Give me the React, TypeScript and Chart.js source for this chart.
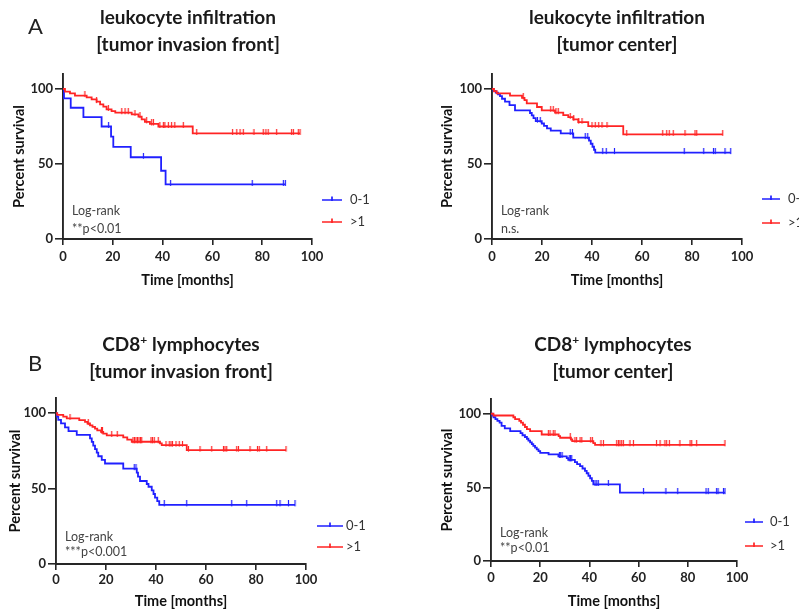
import React, { useEffect, useRef } from "react";
import { Chart, registerables } from "chart.js";
Chart.register(...registerables);

const FONT = "Lato, 'Open Sans', sans-serif";
const BLUE = "#2020ff";
const RED = "#ff2424";
const AXIS = "#262626";

// ---------- A: leukocyte infiltration, tumor invasion front ----------
const aFrontLowT = [0, 0.4, 3.1, 8.2, 15.5, 19.3, 20.2, 27.2, 39.4, 41.2, 89.3];
const aFrontLowS = [100, 93.8, 87.5, 81.3, 75, 68.2, 61.4, 54.5, 45.5, 36.4, 36.4];
const aFrontLowC = [18.3, 32.3, 43.2, 76, 88.5, 89.3];
const aFrontHighT = [0, 0.8, 2.8, 4.8, 9.5, 11.5, 13.5, 14.9, 16.2, 17.5, 19.5, 21.0, 27.6, 30.3, 31.6, 32.9, 34.9, 38.3, 52.1, 95.2];
const aFrontHighS = [100, 98.2, 97.1, 95.6, 94.4, 93.1, 91.6, 89.8, 88.2, 86.4, 85.3, 84.2, 83.1, 81.6, 79.8, 78.1, 76.7, 75.0, 70.4, 70.4];
const aFrontHighC = [8.8, 13.5, 18.2, 23.6, 24.9, 26.2, 28.9, 30.9, 33.6, 35.6, 36.3, 38.9, 40.3, 40.9, 42.3, 43.6, 44.9, 48.3, 53.7, 68.1, 69.8, 71.1, 72.4, 76.7, 80.4, 81.5, 82.4, 85.8, 91.8, 92.5, 94.5, 95.2];

// ---------- A: leukocyte infiltration, tumor center ----------
const aCenterLowT = [0, 0.6, 1.5, 2.4, 3.2, 4.0, 5.2, 7.0, 9.2, 15.2, 15.9, 16.6, 17.5, 19.9, 20.8, 22.0, 23.5, 27.5, 32.5, 38.8, 39.5, 40.2, 40.8, 41.3, 95.5];
const aCenterLowS = [100, 98.8, 97.6, 96.4, 95.2, 93.5, 91.6, 89.3, 85.8, 84.0, 82.4, 80.6, 78.6, 77.0, 75.4, 73.8, 72.2, 70.4, 67.6, 65.6, 63.5, 61.5, 59.5, 57.6, 57.6];
const aCenterLowC = [18.2, 19.3, 31.3, 32.2, 37.3, 38.3, 44.3, 45.7, 49, 76.9, 84.7, 88.6, 89.3, 93.2, 95.5];
const aCenterHighT = [0, 0.8, 1.9, 7.2, 12.0, 13.0, 13.9, 18.0, 19.9, 25.2, 28.5, 30.5, 32.5, 34.5, 38.5, 52.5, 92.3];
const aCenterHighS = [100, 98.5, 97.1, 95.6, 94.1, 92.6, 90.4, 88.0, 85.8, 84.2, 82.6, 81.2, 79.8, 77.9, 75.2, 69.8, 69.8];
const aCenterHighC = [12.5, 23.5, 24.5, 25.6, 26.5, 31.3, 32.7, 34.7, 36, 40, 41.3, 42.7, 44, 46, 53.9, 68.3, 69.9, 70.9, 72.5, 77.2, 81.2, 81.9, 92.3];

// ---------- B: CD8+ lymphocytes, tumor invasion front ----------
const bFrontLowT = [0, 0.3, 0.9, 2.0, 3.6, 5.0, 8.3, 13.6, 14.3, 14.9, 15.6, 16.3, 16.9, 18.3, 19.6, 26.9, 32.3, 32.8, 33.6, 36.3, 37.0, 38.3, 39.0, 39.6, 40.5, 41.3, 95.6];
const bFrontLowS = [100, 97.7, 95.5, 93.2, 90.5, 88.0, 85.6, 83.3, 80.9, 78.5, 76.1, 73.8, 71.4, 69.0, 66.6, 63.2, 60.5, 57.9, 55.0, 53.0, 51.2, 48.8, 46.4, 44.0, 41.6, 39.2, 39.2];
const bFrontLowC = [31.3, 32.0, 43.3, 52.3, 70.3, 76.3, 88.3, 89.6, 93, 95.6];
const bFrontHighT = [0, 0.5, 2.9, 4.3, 9.3, 11.6, 12.6, 13.6, 14.6, 15.6, 16.5, 18.0, 18.9, 20.3, 26.9, 28.5, 30.3, 41.6, 42.3, 52.3, 92.0];
const bFrontHighS = [100, 98.8, 97.7, 96.5, 95.3, 94.2, 93.1, 91.9, 90.8, 89.7, 88.6, 87.5, 86.4, 85.2, 83.9, 82.4, 81.0, 79.9, 78.8, 75.5, 75.5];
const bFrontHighC = [5.6, 12.9, 18.2, 18.6, 22.3, 24.5, 30.8, 31.4, 32, 32.6, 33.2, 33.8, 34.3, 38, 38.6, 39.3, 40.9, 44, 45.3, 46, 46.6, 48, 49.3, 50.6, 53, 57.6, 62.3, 67, 67.6, 68.3, 72.3, 73, 77.6, 80.6, 81.3, 84.3, 92];

// ---------- B: CD8+ lymphocytes, tumor center ----------
const bCenterLowT = [0, 0.5, 1.0, 1.8, 2.6, 3.5, 4.3, 5.6, 7.8, 12.0, 12.8, 13.8, 14.6, 15.2, 15.9, 16.6, 17.2, 17.9, 18.6, 19.3, 20.0, 23.4, 27.4, 30.8, 31.4, 34.1, 35.0, 36.2, 37.2, 38.2, 38.9, 39.6, 40.3, 41.0, 41.6, 52.4, 95.1];
const bCenterLowS = [100, 98.8, 97.6, 96.4, 95.2, 94.0, 91.8, 90.0, 88.2, 86.8, 85.4, 84.2, 83.0, 81.8, 80.6, 79.4, 78.2, 77.0, 75.8, 74.6, 73.4, 72.4, 71.0, 69.8, 68.7, 67.2, 65.8, 64.4, 62.8, 61.2, 59.6, 57.9, 56.2, 54.4, 52.0, 46.4, 46.4];
const bCenterLowC = [27.8, 28.3, 28.9, 31.8, 32.3, 32.8, 42.3, 43.0, 43.6, 47.7, 62, 71.1, 75.9, 87.4, 88.3, 91.7, 92.3, 94.5, 95.1];
const bCenterHighT = [0, 1.0, 9.1, 9.8, 11.5, 12.2, 13.0, 13.8, 14.6, 15.9, 20.6, 27.5, 28.1, 32.5, 33.0, 41.6, 42.3, 95.1];
const bCenterHighS = [100, 98.8, 97.6, 96.4, 95.2, 94.0, 92.5, 91.0, 89.6, 88.2, 85.9, 84.8, 83.7, 82.5, 81.4, 80.1, 78.9, 78.9];
const bCenterHighC = [23.3, 24, 25.3, 26, 32.2, 34.1, 34.8, 36.2, 36.9, 40.5, 41.2, 44.7, 45.7, 51.1, 51.8, 52.4, 53.1, 53.8, 56.5, 57.9, 67.3, 68.7, 70.7, 71.4, 72.5, 76.8, 80.9, 81.6, 83.6, 95.1];

const groupLabels = ["0-1", ">1"];
const xTicks = [0, 20, 40, 60, 80, 100];
const yTicks = [0, 50, 100];

type Pt = { x: number; y: number };
function stepData(T: number[], S: number[]): Pt[] {
  return T.map((t, i) => ({ x: t, y: S[i] }));
}
function censorData(T: number[], S: number[], C: number[]): Pt[] {
  return C.map((c) => {
    let y = S[0];
    for (let i = 0; i < T.length; i++) if (T[i] <= c) y = S[i];
    return { x: c, y };
  });
}
function makeTick(color: string): HTMLCanvasElement {
  const c = document.createElement("canvas");
  c.width = 3;
  c.height = 9;
  const g = c.getContext("2d")!;
  g.strokeStyle = color;
  g.lineWidth = 1.2;
  g.beginPath();
  g.moveTo(1.5, 0);
  g.lineTo(1.5, 6);
  g.stroke();
  return c;
}

const kmPlugin = {
  id: "kmExtras",
  afterDraw(chart: any, _args: any, o: any) {
    const { ctx, chartArea: ca } = chart;
    ctx.save();
    const items = [
      { color: BLUE, text: groupLabels[0], y: ca.bottom + o.legY1 },
      { color: RED, text: groupLabels[1], y: ca.bottom + o.legY2 },
    ];
    for (const it of items) {
      ctx.strokeStyle = it.color;
      ctx.lineWidth = 1.7;
      ctx.beginPath();
      ctx.moveTo(ca.right + o.legX0, it.y);
      ctx.lineTo(ca.right + o.legX1, it.y);
      const mx = ca.right + (o.legX0 + o.legX1) / 2;
      ctx.moveTo(mx, it.y - 3.5);
      ctx.lineTo(mx, it.y + 1);
      ctx.stroke();
      ctx.fillStyle = "#333";
      ctx.font = `13px ${FONT}`;
      ctx.textAlign = "left";
      ctx.textBaseline = "middle";
      ctx.fillText(it.text, ca.right + o.legLX, it.y);
    }
    ctx.fillStyle = "#444";
    ctx.font = `12.5px ${FONT}`;
    ctx.textAlign = "left";
    ctx.textBaseline = "middle";
    ctx.fillText(o.note1, ca.left + o.noteDx, ca.bottom + o.noteY1);
    ctx.fillText(o.note2, ca.left + o.noteDx, ca.bottom + o.noteY2);
    ctx.restore();
  },
};

interface PanelCfg {
  left: number; top: number; width: number; height: number;
  pad: { left: number; right: number; top: number; bottom: number };
  yW: number; xH: number; xTitlePB: number; xTickPad: number;
  legX0: number; legX1: number; legLX: number; legY1: number; legY2: number;
  note1: string; note2: string; noteDx: number; noteY1: number; noteY2: number;
  low: [number[], number[], number[]];
  high: [number[], number[], number[]];
}

const panels: PanelCfg[] = [
  {
    left: 0, top: 0, width: 400, height: 300,
    pad: { left: 8, right: 88, top: 74, bottom: 9 }, yW: 55, xH: 52, xTitlePB: 2.3, xTickPad: 3.9,
    legX0: 10, legX1: 30, legLX: 38, legY1: -39, legY2: -17,
    note1: "Log-rank", note2: "**p<0.01", noteDx: 9, noteY1: -28.3, noteY2: -10.3,
    low: [aFrontLowT, aFrontLowS, aFrontLowC], high: [aFrontHighT, aFrontHighS, aFrontHighC],
  },
  {
    left: 400, top: 0, width: 399, height: 300,
    pad: { left: 36, right: 57, top: 74, bottom: 9 }, yW: 56, xH: 52, xTitlePB: 2.3, xTickPad: 3.9,
    legX0: 20, legX1: 38, legLX: 46, legY1: -40, legY2: -16,
    note1: "Log-rank", note2: "n.s.", noteDx: 9, noteY1: -28.3, noteY2: -10.3,
    low: [aCenterLowT, aCenterLowS, aCenterLowC], high: [aCenterHighT, aCenterHighS, aCenterHighC],
  },
  {
    left: 0, top: 300, width: 400, height: 313,
    pad: { left: 4, right: 94, top: 98, bottom: 2 }, yW: 52, xH: 47, xTitlePB: 0.6, xTickPad: 2.2,
    legX0: 11, legX1: 37, legLX: 40, legY1: -38, legY2: -17,
    note1: "Log-rank", note2: "***p<0.001", noteDx: 9, noteY1: -26.7, noteY2: -12.3,
    low: [bFrontLowT, bFrontLowS, bFrontLowC], high: [bFrontHighT, bFrontHighS, bFrontHighC],
  },
  {
    left: 400, top: 300, width: 399, height: 313,
    pad: { left: 36, right: 62, top: 99, bottom: 2 }, yW: 55, xH: 50, xTitlePB: 0.6, xTickPad: 3.2,
    legX0: 8, legX1: 26, legLX: 33, legY1: -39, legY2: -15,
    note1: "Log-rank", note2: "**p<0.01", noteDx: 9, noteY1: -28, noteY2: -13,
    low: [bCenterLowT, bCenterLowS, bCenterLowC], high: [bCenterHighT, bCenterHighS, bCenterHighC],
  },
];

function Panel({ cfg }: { cfg: PanelCfg }) {
  const ref = useRef<HTMLCanvasElement>(null);
  useEffect(() => {
    const [lT, lS, lC] = cfg.low;
    const [hT, hS, hC] = cfg.high;
    const tickFont = { family: FONT, size: 13, weight: "bold" as const };
    const titleFont = { family: FONT, size: 14.5, weight: "bold" as const };
    const chart = new Chart(ref.current!, {
      type: "scatter",
      data: {
        datasets: [
          { label: groupLabels[1], data: stepData(hT, hS), showLine: true, stepped: true, borderColor: RED, borderWidth: 1.8, pointRadius: 0, fill: false },
          { label: groupLabels[0], data: stepData(lT, lS), showLine: true, stepped: true, borderColor: BLUE, borderWidth: 1.8, pointRadius: 0, fill: false },
          { label: "censor >1", data: censorData(hT, hS, hC), showLine: false, pointStyle: makeTick(RED) as any, pointRadius: 3, borderColor: RED },
          { label: "censor 0-1", data: censorData(lT, lS, lC), showLine: false, pointStyle: makeTick(BLUE) as any, pointRadius: 3, borderColor: BLUE },
        ],
      },
      options: {
        animation: false,
        responsive: false,
        events: [],
        layout: { padding: cfg.pad, autoPadding: false } as any,
        plugins: {
          legend: { display: false },
          tooltip: { enabled: false },
          kmExtras: {
            legX0: cfg.legX0, legX1: cfg.legX1, legLX: cfg.legLX, legY1: cfg.legY1, legY2: cfg.legY2,
            note1: cfg.note1, note2: cfg.note2, noteDx: cfg.noteDx, noteY1: cfg.noteY1, noteY2: cfg.noteY2,
          },
        } as any,
        scales: {
          x: {
            type: "linear",
            min: 0,
            max: 100,
            afterBuildTicks: (s: any) => { s.ticks = xTicks.map((v) => ({ value: v })); },
            ticks: { font: tickFont, color: "#222", padding: cfg.xTickPad, maxRotation: 0, autoSkip: false },
            grid: { drawOnChartArea: false, drawTicks: true, tickLength: 6, color: AXIS, lineWidth: 1.6 },
            border: { display: true, color: AXIS, width: 1.9 },
            title: { display: true, text: "Time [months]", font: titleFont, color: "#111", padding: { top: 0, bottom: cfg.xTitlePB } },
            afterFit: (s: any) => { s.height = cfg.xH; },
          },
          y: {
            type: "linear",
            min: 0,
            max: 110,
            afterBuildTicks: (s: any) => { s.ticks = yTicks.map((v) => ({ value: v })); },
            ticks: { font: tickFont, color: "#222", padding: 2, autoSkip: false },
            grid: { drawOnChartArea: false, drawTicks: true, tickLength: 8, color: AXIS, lineWidth: 1.6 },
            border: { display: true, color: AXIS, width: 1.9 },
            title: { display: true, text: "Percent survival", font: titleFont, color: "#111", padding: { top: 2.3, bottom: 0 } },
            afterFit: (s: any) => { s.width = cfg.yW; },
          },
        },
      },
      plugins: [kmPlugin as any],
    });
    return () => chart.destroy();
  }, [cfg]);
  return (
    <canvas
      ref={ref}
      width={cfg.width}
      height={cfg.height}
      style={{ position: "absolute", left: cfg.left, top: cfg.top, width: cfg.width, height: cfg.height }}
    />
  );
}

const titleStyle = (cx: number, y1: number): React.CSSProperties => ({
  position: "absolute",
  left: cx - 170,
  top: y1 - 13.5,
  width: 340,
  textAlign: "center",
  fontFamily: FONT,
  fontWeight: "bold",
  fontSize: 19,
  lineHeight: "27px",
  color: "#1a1a1a",
  whiteSpace: "nowrap",
});
const letterStyle = (x: number, y: number): React.CSSProperties => ({
  position: "absolute",
  left: x,
  top: y - 13,
  fontFamily: FONT,
  fontSize: 22,
  lineHeight: "26px",
  color: "#222",
});
const sup: React.CSSProperties = { fontSize: 12, lineHeight: 0, verticalAlign: 7 };

export default function App() {
  return (
    <div style={{ position: "absolute", left: 0, top: 0, width: 799, height: 613, overflow: "hidden", background: "#fff" }}>
      {panels.map((p, i) => (
        <Panel key={i} cfg={p} />
      ))}
      <div style={letterStyle(28, 26)}>A</div>
      <div style={letterStyle(28, 363)}>B</div>
      <div style={titleStyle(188, 16)}>leukocyte infiltration<br />[tumor invasion front]</div>
      <div style={titleStyle(617, 16)}>leukocyte infiltration<br />[tumor center]</div>
      <div style={titleStyle(181, 343)}>CD8<sup style={sup}>+</sup> lymphocytes<br />[tumor invasion front]</div>
      <div style={titleStyle(613, 343)}>CD8<sup style={sup}>+</sup> lymphocytes<br />[tumor center]</div>
    </div>
  );
}
